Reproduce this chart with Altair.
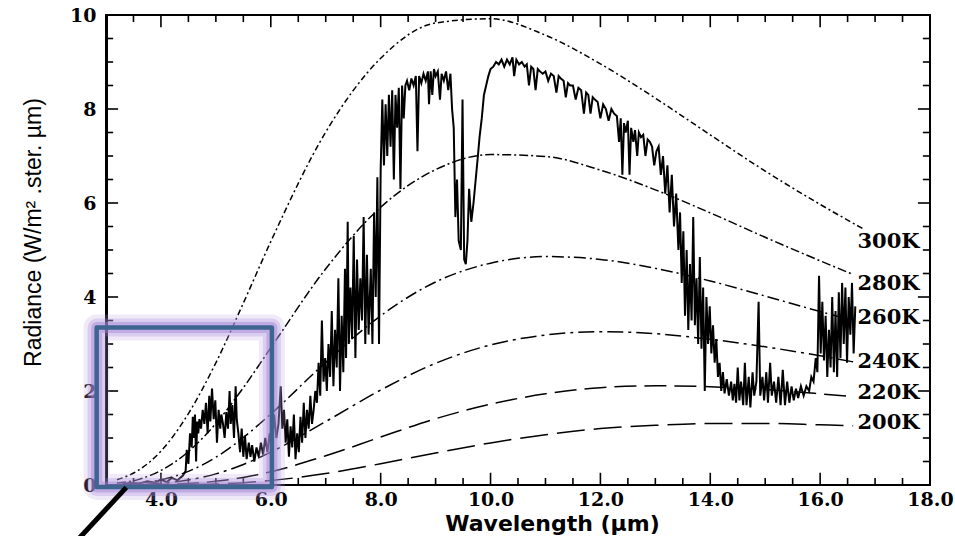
import altair as alt
import pandas as pd

# ---------------- data ----------------
temps = ["300K", "280K", "260K", "240K", "220K", "200K"]
planck_wl = [3.2, 3.6, 4.0, 4.5, 5.0, 5.5, 6.0, 7.0, 8.0, 9.0, 10.0, 11.0,
             12.0, 13.0, 14.0, 15.0, 16.0, 16.6]
planck_wl_300K = planck_wl + [16.8]
rad_300K = [0.11, 0.32, 0.72, 1.52, 2.60, 3.87, 5.18, 7.51, 9.08, 9.83, 9.92,
            9.57, 8.96, 8.23, 7.45, 6.68, 5.97, 5.57, 5.44]
rad_280K = [0.04, 0.12, 0.31, 0.71, 1.31, 2.07, 2.92, 4.60, 5.91, 6.71, 7.03,
            6.99, 6.70, 6.28, 5.79, 5.27, 4.77, 4.48]
rad_260K = [0.01, 0.04, 0.11, 0.29, 0.59, 1.01, 1.51, 2.61, 3.60, 4.32, 4.72,
            4.86, 4.80, 4.61, 4.34, 4.02, 3.69, 3.50]
rad_240K = [0.003, 0.012, 0.036, 0.106, 0.237, 0.437, 0.70, 1.35, 2.02, 2.59,
            2.98, 3.19, 3.26, 3.22, 3.10, 2.94, 2.75, 2.62]
rad_220K = [0.0005, 0.0025, 0.009, 0.032, 0.080, 0.162, 0.283, 0.621, 1.02,
            1.41, 1.72, 1.94, 2.07, 2.11, 2.09, 2.03, 1.94, 1.88]
rad_200K = [0.0001, 0.0004, 0.0018, 0.0074, 0.0215, 0.049, 0.095, 0.244,
            0.452, 0.682, 0.895, 1.07, 1.20, 1.27, 1.31, 1.31, 1.28, 1.26]

# measured spectrum (wavelength, radiance)
spectrum = [
    (3.30, 0.02), (3.45, 0.05), (3.60, 0.03), (3.75, 0.08), (3.90, 0.05), (4.00, 0.12),
    (4.10, 0.06), (4.20, 0.15), (4.30, 0.10), (4.40, 0.20),
    (4.45, 0.30), (4.47, 0.75), (4.50, 0.45), (4.53, 1.10), (4.56, 0.80), (4.58, 1.45),
    (4.60, 1.00), (4.62, 1.50), (4.64, 0.50), (4.66, 1.35), (4.68, 1.10), (4.70, 1.40),
    (4.73, 1.20), (4.76, 1.60), (4.79, 1.30), (4.82, 1.75), (4.85, 1.10), (4.88, 1.90),
    (4.90, 1.35), (4.93, 2.05), (4.96, 1.40), (4.99, 1.80), (5.02, 0.90), (5.05, 1.60),
    (5.08, 1.20), (5.10, 1.50),
    (5.13, 1.30), (5.16, 1.00), (5.19, 1.55), (5.22, 1.20), (5.25, 2.00), (5.27, 1.30),
    (5.30, 1.70), (5.33, 1.00), (5.36, 2.10), (5.38, 1.40), (5.41, 1.10),
    (5.44, 0.70), (5.47, 1.20), (5.50, 0.60), (5.53, 1.05), (5.56, 0.55), (5.60, 0.90),
    (5.63, 0.60), (5.66, 0.85), (5.70, 0.50), (5.74, 0.80), (5.78, 0.60), (5.82, 0.90),
    (5.86, 0.65), (5.90, 1.00), (5.94, 0.70),
    (5.98, 1.10), (6.02, 0.80), (6.06, 1.50), (6.10, 1.00), (6.14, 1.30), (6.18, 2.10),
    (6.21, 1.20), (6.24, 1.60), (6.27, 0.90), (6.30, 1.40), (6.33, 0.60), (6.36, 1.25),
    (6.39, 0.80), (6.42, 1.50), (6.45, 0.55), (6.48, 1.10), (6.51, 0.70), (6.54, 1.45),
    (6.57, 0.90), (6.60, 1.75), (6.63, 1.00),
    (6.66, 1.60), (6.69, 1.20), (6.72, 1.90), (6.75, 1.30), (6.78, 1.60), (6.81, 2.00),
    (6.84, 1.75), (6.87, 2.60), (6.90, 1.90), (6.93, 3.50), (6.96, 2.20), (6.99, 2.70),
    (7.02, 2.00), (7.05, 3.00), (7.08, 2.30), (7.11, 3.70), (7.14, 2.10), (7.17, 3.30),
    (7.20, 2.50), (7.23, 4.40), (7.26, 2.00),
    (7.29, 3.60), (7.32, 2.40), (7.35, 4.60), (7.37, 2.70), (7.40, 5.60), (7.42, 3.00),
    (7.45, 4.20),
    (7.48, 3.10), (7.51, 5.30), (7.54, 2.70), (7.57, 4.80), (7.60, 3.30), (7.63, 4.40),
    (7.66, 3.50), (7.69, 5.70), (7.72, 3.00), (7.75, 4.90), (7.78, 3.20),
    (7.82, 4.60), (7.85, 3.00), (7.88, 5.80), (7.91, 4.00), (7.94, 6.55), (7.97, 3.00),
    (8.00, 6.70), (8.03, 8.20), (8.06, 6.80), (8.09, 8.10), (8.12, 7.00), (8.15, 8.30),
    (8.18, 7.20), (8.21, 8.40), (8.24, 6.50), (8.27, 8.30), (8.30, 7.60), (8.33, 8.45),
    (8.36, 6.30), (8.39, 8.50), (8.42, 7.80), (8.45, 8.50),
    (8.48, 8.60), (8.52, 8.40), (8.56, 8.65), (8.60, 8.50), (8.64, 8.70), (8.67, 7.10),
    (8.70, 8.70), (8.74, 8.55), (8.78, 8.75), (8.82, 8.60), (8.86, 8.80), (8.88, 8.10),
    (8.91, 8.80), (8.94, 8.30), (8.97, 8.85), (9.00, 8.70), (9.04, 8.80), (9.08, 8.20),
    (9.11, 8.75), (9.15, 8.60), (9.19, 8.80), (9.23, 8.40), (9.27, 8.75), (9.30, 8.00),
    (9.33, 7.60), (9.36, 5.70), (9.39, 6.50), (9.42, 5.20), (9.46, 5.00), (9.49, 8.20),
    (9.52, 4.80), (9.55, 4.70), (9.58, 5.20), (9.61, 6.30), (9.65, 5.60), (9.69, 6.00),
    (9.73, 6.50), (9.77, 7.00), (9.80, 7.40), (9.84, 7.80), (9.88, 8.30), (9.92, 8.50),
    (9.96, 8.70), (10.00, 8.85),
    (10.05, 8.90), (10.10, 9.00), (10.15, 8.95), (10.20, 9.05), (10.25, 8.90), (10.30, 9.05),
    (10.35, 8.95), (10.40, 9.10), (10.43, 8.70), (10.47, 9.05), (10.52, 8.95), (10.57, 9.00),
    (10.62, 8.90), (10.66, 8.95), (10.70, 8.50), (10.74, 8.90), (10.78, 8.85), (10.82, 8.40),
    (10.86, 8.85), (10.90, 8.80), (10.95, 8.75), (11.00, 8.80), (11.05, 8.60), (11.10, 8.75),
    (11.15, 8.70), (11.20, 8.35), (11.24, 8.70), (11.28, 8.65),
    (11.33, 8.60), (11.37, 8.25), (11.41, 8.55), (11.45, 8.50), (11.50, 8.50), (11.55, 8.20),
    (11.60, 8.45), (11.65, 8.40), (11.70, 7.90), (11.74, 8.35), (11.78, 8.30), (11.82, 7.90),
    (11.86, 8.25), (11.90, 8.20), (11.95, 8.15), (12.00, 7.80), (12.05, 8.10), (12.10, 8.00),
    (12.15, 7.75), (12.20, 8.00), (12.25, 7.90),
    (12.30, 7.85), (12.34, 7.30), (12.37, 7.80), (12.40, 6.60), (12.43, 7.70), (12.46, 7.50),
    (12.50, 7.75), (12.53, 6.60), (12.56, 7.60), (12.60, 7.30), (12.63, 7.55), (12.67, 7.00),
    (12.70, 7.50), (12.74, 7.40), (12.78, 7.45), (12.82, 7.00), (12.86, 7.35), (12.90, 7.30),
    (12.94, 7.20), (12.98, 6.80), (13.02, 7.10),
    (13.06, 7.20), (13.10, 6.60), (13.14, 7.00), (13.18, 6.20), (13.22, 6.80), (13.26, 5.80),
    (13.30, 6.60), (13.34, 5.50), (13.38, 6.20),
    (13.42, 5.00), (13.45, 5.80), (13.48, 4.30), (13.51, 5.40), (13.54, 3.60), (13.57, 5.00),
    (13.60, 3.30), (13.63, 4.70), (13.66, 3.50), (13.69, 5.70), (13.72, 3.40), (13.75, 4.40),
    (13.78, 3.00),
    (13.81, 4.85), (13.84, 2.90), (13.87, 4.20), (13.90, 2.00), (13.93, 4.00), (13.96, 3.00),
    (13.99, 3.80), (14.02, 2.80), (14.05, 3.40), (14.08, 2.60), (14.11, 3.10), (14.14, 2.30),
    (14.17, 2.60), (14.20, 2.00), (14.23, 2.40), (14.26, 1.95), (14.30, 2.25), (14.34, 1.90),
    (14.38, 2.20), (14.41, 1.80), (14.44, 2.15), (14.47, 1.75), (14.50, 2.50), (14.53, 1.80),
    (14.56, 2.20), (14.60, 1.70), (14.63, 2.60), (14.66, 1.70), (14.70, 2.30), (14.73, 1.65),
    (14.77, 2.40), (14.80, 1.90), (14.84, 2.20), (14.88, 3.90), (14.91, 1.90), (14.95, 2.30),
    (14.98, 1.80),
    (15.02, 2.40), (15.05, 1.75), (15.09, 2.60), (15.12, 1.90), (15.16, 2.20), (15.20, 1.75),
    (15.24, 2.30), (15.28, 1.70), (15.32, 2.45), (15.36, 1.70), (15.40, 2.20), (15.44, 1.75),
    (15.48, 2.10), (15.52, 1.80), (15.56, 2.05), (15.60, 1.85),
    (15.65, 2.10), (15.70, 1.90), (15.75, 2.10), (15.80, 2.00), (15.84, 2.30), (15.88, 2.20),
    (15.92, 2.70), (15.95, 2.40), (15.98, 4.45), (16.01, 2.80), (16.04, 3.90), (16.07, 2.65),
    (16.10, 3.60), (16.13, 2.30), (16.16, 3.30), (16.19, 2.50), (16.22, 4.00), (16.25, 2.40),
    (16.28, 3.70), (16.31, 2.30), (16.34, 4.10), (16.37, 2.70), (16.40, 4.30), (16.43, 3.00),
    (16.46, 4.20), (16.49, 2.60), (16.52, 4.00), (16.55, 3.20), (16.58, 4.30), (16.61, 2.80),
    (16.64, 3.80),
]

# curve labels
label_wl = 16.68
label_rad = [5.17, 4.27, 3.55, 2.61, 1.96, 1.32]

# axis tick values
x_label_values = [4.0, 6.0, 8.0, 10.0, 12.0, 14.0, 16.0, 18.0]
y_label_values = [0, 2, 4, 6, 8, 10]
x_major_ticks = [4.0, 6.0, 8.0, 10.0, 12.0, 14.0, 16.0]
x_minor_ticks = [3.5, 4.5, 5.0, 5.5, 6.5, 7.0, 7.5, 8.5, 9.0, 9.5, 10.5, 11.0, 11.5,
                 12.5, 13.0, 13.5, 14.5, 15.0, 15.5, 16.5, 17.0, 17.5]
y_major_ticks = [2, 4, 6, 8]
y_minor_ticks = [0.5, 1.0, 1.5, 2.5, 3.0, 3.5, 4.5, 5.0, 5.5, 6.5, 7.0, 7.5, 8.5, 9.0, 9.5]

# highlight box and pointer (data units)
box_wl = [2.83, 6.02]
box_rad = [-0.04, 3.35]
arrow_wl = [3.37, 2.30]
arrow_rad = [-0.05, -1.40]

# ---------------- tables ----------------
X0, X1, Y0, Y1 = 3.0, 18.0, 0.0, 10.0
rads = {"300K": rad_300K, "280K": rad_280K, "260K": rad_260K,
        "240K": rad_240K, "220K": rad_220K, "200K": rad_200K}
rows = []
for t in temps:
    wls = planck_wl_300K if t == "300K" else planck_wl
    for w, r in zip(wls, rads[t]):
        rows.append({"wl": w, "rad": r, "T": t})
planck_df = pd.DataFrame(rows)

spec_df = pd.DataFrame(spectrum, columns=["wl", "rad"])

label_df = pd.DataFrame({"wl": [label_wl] * len(temps), "rad": label_rad, "T": temps})

# inward tick rules (lengths in data units, ~12px major / ~7px minor)
LY_MAJ, LY_MIN = 0.26, 0.15
LX_MAJ, LX_MIN = 0.22, 0.13
trows = []
for vals, ly in ((x_major_ticks, LY_MAJ), (x_minor_ticks, LY_MIN)):
    for v in vals:
        trows.append({"wl": v, "rad": Y0, "wl2": v, "rad2": Y0 + ly})
        trows.append({"wl": v, "rad": Y1, "wl2": v, "rad2": Y1 - ly})
for vals, lx in ((y_major_ticks, LX_MAJ), (y_minor_ticks, LX_MIN)):
    for v in vals:
        trows.append({"wl": X0, "rad": v, "wl2": X0 + lx, "rad2": v})
        trows.append({"wl": X1, "rad": v, "wl2": X1 - lx, "rad2": v})
ticks_df = pd.DataFrame(trows)

box_df = pd.DataFrame({"wl": [box_wl[0]], "wl2": [box_wl[1]], "rad": [box_rad[0]], "rad2": [box_rad[1]]})
arrow_df = pd.DataFrame({"wl": [arrow_wl[0]], "wl2": [arrow_wl[1]], "rad": [arrow_rad[0]], "rad2": [arrow_rad[1]]})

# ---------------- chart ----------------
xs = alt.Scale(domain=[X0, X1], nice=False, zero=False)
ys = alt.Scale(domain=[Y0, Y1], nice=False, zero=False)

LABEL_FONT = "DejaVu Serif"

x_axis = alt.Axis(
    values=x_label_values, format=".1f", ticks=False, domain=False, grid=False,
    labelFont=LABEL_FONT, labelFontWeight="bold", labelFontSize=19, labelColor="black",
    labelPadding=5, labelFlush=False,
    title="Wavelength (µm)", titleFont="DejaVu Sans", titleFontWeight="bold",
    titleFontSize=22, titleColor="black", titleX=446, titleY=45,
    titleAlign="center", titleBaseline="alphabetic",
)
y_axis = alt.Axis(
    values=y_label_values, format="d", ticks=False, domain=True, domainWidth=3,
    domainColor="black", grid=False,
    labelFont=LABEL_FONT, labelFontWeight="bold", labelFontSize=19, labelColor="black",
    labelPadding=10, labelFlush=False,
    title="Radiance (W/m² .ster. µm)", titleFont="Liberation Sans", titleFontWeight="normal",
    titleFontSize=23, titleColor="black", titleAngle=270, titleX=-73, titleY=217,
    titleAlign="center", titleBaseline="middle",
)

X = alt.X("wl:Q", scale=xs, axis=x_axis)
Y = alt.Y("rad:Q", scale=ys, axis=y_axis)

dashes = [[6, 3, 2, 3], [9, 3, 2, 3], [12, 4, 2, 4], [16, 5, 3, 5], [22, 8], [28, 9]]

planck = alt.Chart(planck_df).mark_line(color="black", strokeWidth=1.5, interpolate="monotone").encode(
    x=X, y=Y,
    strokeDash=alt.StrokeDash("T:N", scale=alt.Scale(domain=temps, range=dashes), legend=None),
)

spec = alt.Chart(spec_df).mark_line(color="black", strokeWidth=2).encode(x=X, y=Y)

ticks = alt.Chart(ticks_df).mark_rule(color="black", strokeWidth=1.6).encode(
    x=X, y=Y, x2="wl2:Q", y2="rad2:Q",
)

labels = alt.Chart(label_df).mark_text(
    align="left", baseline="middle", font=LABEL_FONT, fontWeight="bold", fontSize=21, color="black"
).encode(x=X, y=Y, text="T:N")


def box_layer(width, color, opacity):
    return alt.Chart(box_df).mark_rect(
        fill="transparent", stroke=color, strokeWidth=width, strokeOpacity=opacity, strokeJoin="round"
    ).encode(x=X, x2="wl2:Q", y=Y, y2="rad2:Q")


glow1 = box_layer(26, "#b49ce0", 0.22)
glow2 = box_layer(18, "#ab90dc", 0.30)
glow3 = box_layer(11, "#9f82d6", 0.45)
box = box_layer(4.5, "#3e6590", 1.0)

arrow = alt.Chart(arrow_df).mark_rule(color="black", strokeWidth=5).encode(
    x=X, x2="wl2:Q", y=Y, y2="rad2:Q",
)

chart = alt.layer(planck, spec, ticks, labels, glow1, glow2, glow3, box, arrow).properties(
    width=824, height=470,
    autosize=alt.AutoSizeParams(type="none"),
    padding={"left": 106, "top": 15, "right": 25, "bottom": 51},
    background="white",
).configure_view(stroke="black", strokeWidth=2)

chart.save("out.html", embed_options={"renderer": "svg", "actions": False})
